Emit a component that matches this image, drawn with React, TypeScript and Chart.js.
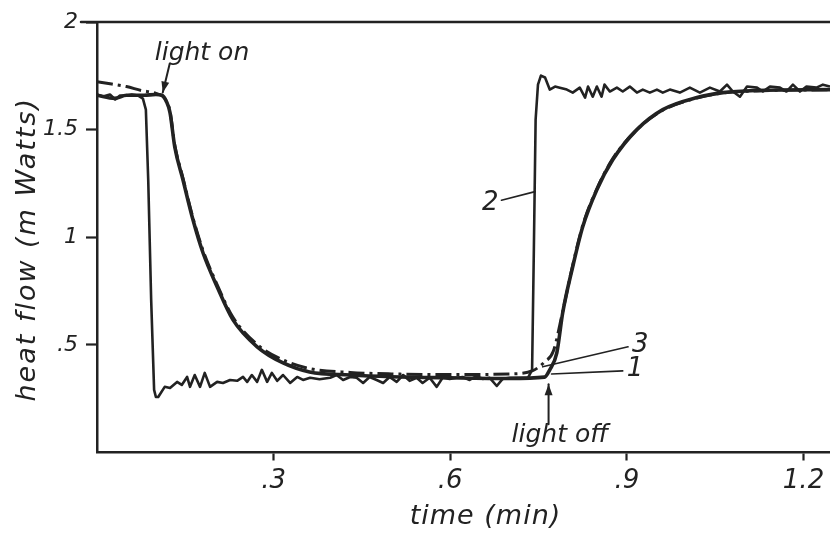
import React, { useEffect, useRef } from "react";
import { Chart, registerables } from "chart.js";

Chart.register(...registerables);

// ---------- data (time in min, heat flow in mW) ----------
const xTickValues = [0.3, 0.6, 0.9, 1.2];
const xTickLabels = [".3", ".6", ".9", "1.2"];
const yTickValues = [0.5, 1, 1.5, 2];
const yTickLabels = [".5", "1", "1.5", "2"];

const xTitle = "time (min)";
const yTitle = "heat flow (m Watts)";

// curve 2: fast response (thin, noisy)
const curve2X = [
  0.0, 0.01, 0.022, 0.031, 0.039, 0.051, 0.059, 0.07, 0.078, 0.083, 0.087, 0.092, 0.097, 0.1,
  0.104, 0.115, 0.124, 0.136, 0.144, 0.153, 0.158, 0.166, 0.175, 0.183, 0.192, 0.204, 0.214,
  0.226, 0.238, 0.248, 0.255, 0.263, 0.272, 0.28, 0.289, 0.297, 0.306, 0.316, 0.328, 0.34,
  0.35, 0.362, 0.378, 0.396, 0.407, 0.418, 0.43, 0.441, 0.452, 0.463, 0.475, 0.486, 0.497,
  0.509, 0.52, 0.531, 0.543, 0.553, 0.565, 0.577, 0.587, 0.599, 0.611, 0.621, 0.633, 0.645,
  0.655, 0.667, 0.679, 0.689, 0.701, 0.713, 0.723, 0.732, 0.739, 0.742, 0.745, 0.749, 0.754,
  0.761, 0.769, 0.778, 0.786, 0.798, 0.808, 0.82, 0.829, 0.834, 0.842, 0.849, 0.857, 0.862,
  0.871, 0.883, 0.893, 0.905, 0.917, 0.927, 0.939, 0.951, 0.961, 0.973, 0.99, 1.007, 1.024,
  1.041, 1.058, 1.07, 1.08, 1.092, 1.104, 1.121, 1.131, 1.143, 1.16, 1.171, 1.182, 1.194,
  1.205, 1.222, 1.233, 1.245,
];
const curve2Y = [
  1.663, 1.654, 1.663, 1.64, 1.658, 1.658, 1.663, 1.658, 1.644, 1.593, 1.267, 0.709, 0.291, 0.258,
  0.258, 0.305, 0.3, 0.328, 0.314, 0.351, 0.305, 0.36, 0.305, 0.37, 0.305, 0.328, 0.323,
  0.337, 0.333, 0.351, 0.328, 0.36, 0.328, 0.384, 0.328, 0.37, 0.333, 0.36, 0.323, 0.351,
  0.337, 0.347, 0.34, 0.347, 0.36, 0.337, 0.351, 0.347, 0.323, 0.351, 0.337, 0.323, 0.351,
  0.328, 0.36, 0.333, 0.347, 0.323, 0.347, 0.305, 0.347, 0.342, 0.347, 0.351, 0.337, 0.356,
  0.342, 0.347, 0.309, 0.342, 0.347, 0.347, 0.347, 0.347, 0.384, 0.942, 1.547, 1.709, 1.751,
  1.742, 1.686, 1.7, 1.695, 1.686, 1.672, 1.695, 1.649, 1.7, 1.653, 1.7, 1.653, 1.709,
  1.677, 1.695, 1.677, 1.7, 1.672, 1.686, 1.672, 1.686, 1.672, 1.686, 1.672, 1.695, 1.672,
  1.695, 1.677, 1.709, 1.677, 1.653, 1.7, 1.695, 1.677, 1.7, 1.695, 1.677, 1.709, 1.677,
  1.7, 1.695, 1.709, 1.7,
];

// curve 1: measured slow response (thick solid)
const curve1X = [
  0.0, 0.03, 0.05, 0.08, 0.1, 0.11, 0.118, 0.124, 0.132, 0.146, 0.163, 0.18, 0.204, 0.231,
  0.272, 0.316, 0.361, 0.43, 0.5, 0.6, 0.7, 0.76, 0.769, 0.781, 0.791, 0.808, 0.825, 0.849,
  0.876, 0.917, 0.961, 1.019, 1.063, 1.12, 1.245,
];
const curve1Y = [
  1.66, 1.645, 1.66, 1.66, 1.663, 1.66, 1.63, 1.579, 1.421, 1.267, 1.081, 0.928, 0.77, 0.616,
  0.491, 0.416, 0.374, 0.36, 0.352, 0.347, 0.344, 0.35, 0.384, 0.463, 0.649, 0.863, 1.049, 1.221,
  1.36, 1.5, 1.593, 1.649, 1.672, 1.682, 1.686,
];

// curve 3: model (dash-dot)
const curve3X = [
  0.0, 0.025, 0.05, 0.075, 0.1, 0.115, 0.124, 0.132, 0.146, 0.163, 0.18, 0.204, 0.231, 0.272,
  0.316, 0.361, 0.43, 0.5, 0.6, 0.7, 0.74, 0.76, 0.775, 0.791, 0.808, 0.825, 0.849, 0.876,
  0.917, 0.961, 1.019, 1.063, 1.12, 1.245,
];
const curve3Y = [
  1.723, 1.712, 1.7, 1.682, 1.668, 1.645, 1.585, 1.43, 1.275, 1.09, 0.94, 0.78, 0.628, 0.502,
  0.43, 0.39, 0.372, 0.365, 0.362, 0.365, 0.38, 0.42, 0.47, 0.655, 0.87, 1.055, 1.225, 1.365,
  1.5, 1.59, 1.647, 1.67, 1.68, 1.685,
];

// annotations (anchor points in data units)
const lightOnAt = { x: 0.11, y: 1.663, text: "light on" };
const lightOffAt = { x: 0.767, y: 0.34, text: "light off" };
const curveLabels = [
  { text: "2", tx: 0.687, ty: 1.172, ax: 0.744, ay: 1.212, side: "left" },
  { text: "3", tx: 0.902, ty: 0.491, ax: 0.757, ay: 0.398, side: "right" },
  { text: "1", tx: 0.893, ty: 0.379, ax: 0.772, ay: 0.365, side: "right" },
];

const INK = "#222222";
const FONT = "'DejaVu Sans', sans-serif";

const toPts = (xs: number[], ys: number[]) => xs.map((x, i) => ({ x, y: ys[i] }));

function arrow(ctx: CanvasRenderingContext2D, x1: number, y1: number, x2: number, y2: number) {
  ctx.beginPath();
  ctx.moveTo(x1, y1);
  ctx.lineTo(x2, y2);
  ctx.stroke();
  const ang = Math.atan2(y2 - y1, x2 - x1);
  const L = 11;
  const W = 4;
  ctx.beginPath();
  ctx.moveTo(x2, y2);
  ctx.lineTo(x2 - L * Math.cos(ang) + W * Math.sin(ang), y2 - L * Math.sin(ang) - W * Math.cos(ang));
  ctx.lineTo(x2 - L * Math.cos(ang) - W * Math.sin(ang), y2 - L * Math.sin(ang) + W * Math.cos(ang));
  ctx.closePath();
  ctx.fill();
}

const decorPlugin = {
  id: "decor",
  afterDraw(chart: any) {
    const { ctx, chartArea, scales } = chart;
    const xs = scales.x;
    const ys = scales.y;
    ctx.save();
    ctx.strokeStyle = INK;
    ctx.fillStyle = INK;
    ctx.lineCap = "round";

    // top frame line at y = 2
    const topY = ys.getPixelForValue(2);
    ctx.lineWidth = 2.5;
    ctx.beginPath();
    ctx.moveTo(chartArea.left - 16, topY);
    ctx.lineTo(chartArea.right, topY);
    ctx.stroke();

    // light on
    const onX = xs.getPixelForValue(lightOnAt.x);
    const onY = ys.getPixelForValue(lightOnAt.y);
    ctx.lineWidth = 2;
    arrow(ctx, onX + 8, onY - 31, onX + 1, onY - 2);
    ctx.font = `italic 25px ${FONT}`;
    ctx.textAlign = "left";
    ctx.textBaseline = "alphabetic";
    ctx.fillText(lightOnAt.text, onX - 7, onY - 35);

    // light off
    const offX = xs.getPixelForValue(lightOffAt.x);
    const offY = ys.getPixelForValue(lightOffAt.y);
    arrow(ctx, offX, offY + 45, offX, offY + 5);
    ctx.fillText(lightOffAt.text, offX - 37, offY + 63);

    // curve labels with leader lines
    ctx.font = `italic 26px ${FONT}`;
    ctx.lineWidth = 1.6;
    for (const c of curveLabels) {
      const tx = xs.getPixelForValue(c.tx);
      const ty = ys.getPixelForValue(c.ty);
      const ax = xs.getPixelForValue(c.ax);
      const ay = ys.getPixelForValue(c.ay);
      ctx.beginPath();
      ctx.moveTo(tx, ty);
      ctx.lineTo(ax, ay);
      ctx.stroke();
      ctx.textBaseline = "middle";
      if (c.side === "left") {
        ctx.textAlign = "right";
        ctx.fillText(c.text, tx - 3, ty + 3);
      } else {
        ctx.textAlign = "left";
        ctx.fillText(c.text, tx + 4, ty - 2);
      }
    }

    // axis titles
    ctx.textAlign = "center";
    ctx.textBaseline = "middle";
    ctx.font = `italic 27px ${FONT}`;
    try { (ctx as any).letterSpacing = "1px"; } catch (e) {}
    ctx.fillText(xTitle, (chartArea.left + chartArea.right) / 2 + 22, chartArea.bottom + 64);
    ctx.translate(28, (chartArea.top + chartArea.bottom) / 2 + 12);
    ctx.rotate(-Math.PI / 2);
    try { (ctx as any).letterSpacing = "2px"; } catch (e) {}
    ctx.fillText(yTitle, 0, 0);
    ctx.restore();
  },
};

export default function App() {
  const ref = useRef<HTMLCanvasElement | null>(null);
  useEffect(() => {
    if (!ref.current) return;
    const chart = new Chart(ref.current, {
      type: "line",
      data: {
        datasets: [
          {
            label: "2",
            data: toPts(curve2X, curve2Y),
            borderColor: INK,
            borderWidth: 2.6,
            pointRadius: 0,
            tension: 0,
            borderJoinStyle: "round",
          },
          {
            label: "1",
            data: toPts(curve1X, curve1Y),
            borderColor: INK,
            borderWidth: 3.6,
            pointRadius: 0,
            cubicInterpolationMode: "monotone",
          },
          {
            label: "3",
            data: toPts(curve3X, curve3Y),
            borderColor: INK,
            borderWidth: 3,
            borderDash: [16, 5, 3, 5],
            pointRadius: 0,
            cubicInterpolationMode: "monotone",
          },
        ],
      },
      options: {
        animation: false,
        responsive: false,
        maintainAspectRatio: false,
        parsing: false,
        layout: { padding: { top: 22, right: 0, left: 0, bottom: 0 } },
        plugins: { legend: { display: false }, tooltip: { enabled: false } },
        scales: {
          x: {
            type: "linear",
            min: 0,
            max: 1.245,
            afterBuildTicks: (s: any) => {
              s.ticks = xTickValues.map((v) => ({ value: v }));
            },
            afterFit: (s: any) => {
              s.height = 81.5;
            },
            ticks: {
              callback: (v: any) => {
                const i = xTickValues.findIndex((t) => Math.abs(t - v) < 1e-9);
                return i >= 0 ? xTickLabels[i] : "";
              },
              font: { family: FONT, size: 26, style: "italic" },
              color: INK,
              padding: 5,
              maxRotation: 0,
            },
            grid: { drawOnChartArea: false, drawTicks: true, tickLength: 8, tickWidth: 2.2, tickColor: INK },
            border: { display: true, color: INK, width: 2.5 },
          },
          y: {
            type: "linear",
            min: 0,
            max: 2,
            afterBuildTicks: (s: any) => {
              s.ticks = yTickValues.map((v) => ({ value: v }));
            },
            afterFit: (s: any) => {
              s.width = 97;
            },
            ticks: {
              callback: (v: any) => {
                const i = yTickValues.findIndex((t) => Math.abs(t - v) < 1e-9);
                return i >= 0 ? yTickLabels[i] : "";
              },
              font: { family: FONT, size: 22, style: "italic" },
              color: INK,
              padding: 8,
            },
            grid: { drawOnChartArea: false, drawTicks: true, tickLength: 11, tickWidth: 2.2, tickColor: INK },
            border: { display: true, color: INK, width: 2.5 },
          },
        },
      },
      plugins: [decorPlugin],
    } as any);
    return () => chart.destroy();
  }, []);

  return (
    <div style={{ position: "fixed", left: 0, top: 0, width: 830, height: 534, background: "#fff" }}>
      <canvas ref={ref} width={830} height={534} style={{ display: "block", width: 830, height: 534 }} />
    </div>
  );
}
